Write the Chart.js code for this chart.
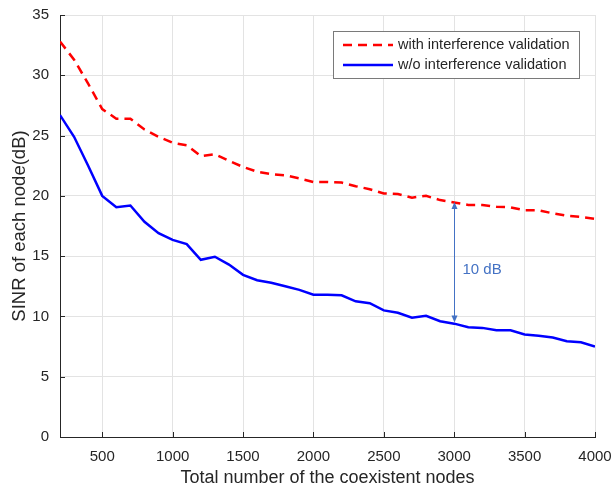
<!DOCTYPE html>
<html>
<head>
<meta charset="utf-8">
<script src="https://cdn.jsdelivr.net/npm/chart.js@4/dist/chart.umd.min.js"></script>
<style>
    body { margin: 0; background: #ffffff; }
    canvas { display: block; }
</style>
</head>
<body>
<canvas id="sinrChart" width="613" height="487"></canvas>
<script>
// number of coexistent nodes
var nodeCounts = [200, 300, 400, 500, 600, 700, 800, 900, 1000, 1100, 1200, 1300, 1400, 1500,
    1600, 1700, 1800, 1900, 2000, 2100, 2200, 2300, 2400, 2500, 2600, 2700, 2800, 2900, 3000,
    3100, 3200, 3300, 3400, 3500, 3600, 3700, 3800, 3900, 4000];
var withValidation = [32.8, 31.3, 29.3, 27.2, 26.4, 26.4, 25.5, 24.9, 24.4, 24.2, 23.3, 23.45, 22.9, 22.4,
    22.0, 21.8, 21.7, 21.45, 21.15, 21.15, 21.1, 20.8, 20.55, 20.2, 20.15, 19.85, 20.0, 19.65, 19.45,
    19.25, 19.25, 19.1, 19.05, 18.8, 18.8, 18.55, 18.35, 18.25, 18.1];
var withoutValidation = [26.7, 24.9, 22.5, 20.0, 19.05, 19.2, 17.85, 16.9, 16.35, 16.0, 14.7, 14.95, 14.3, 13.45,
    13.0, 12.8, 12.5, 12.2, 11.8, 11.8, 11.75, 11.25, 11.1, 10.5, 10.3, 9.9, 10.05, 9.6, 9.4,
    9.1, 9.05, 8.85, 8.85, 8.5, 8.4, 8.25, 7.95, 7.85, 7.5];
var seriesLabels = ['with interference validation', 'w/o interference validation'];
var xTickValues = [500, 1000, 1500, 2000, 2500, 3000, 3500, 4000];
var yTickValues = [0, 5, 10, 15, 20, 25, 30, 35];

// "10 dB" gap marker
var gapX = 3000;
var gapTop = 19.5;
var gapBottom = 9.5;
var gapLabel = '10 dB';
var gapLabelY = 13.9;

var fontName = 'Arial, "Liberation Sans", sans-serif';
var textColor = '#262626';

function toPoints(xs, ys) {
    var pts = [];
    for (var i = 0; i < xs.length; i++) {
        pts.push({ x: xs[i], y: ys[i] });
    }
    return pts;
}

function drawArrowHead(ctx, x, y, dir) {
    ctx.beginPath();
    ctx.moveTo(x, y);
    ctx.lineTo(x - 3, y + dir * 7);
    ctx.lineTo(x + 3, y + dir * 7);
    ctx.closePath();
    ctx.fill();
}

// inward ticks, gap arrow and the legend box inside the plot
var extrasPlugin = {
    id: 'extras',
    afterDraw: function (chart) {
        var ctx = chart.ctx;
        var xs = chart.scales.x;
        var ys = chart.scales.y;
        var area = chart.chartArea;
        ctx.save();

        ctx.strokeStyle = textColor;
        ctx.lineWidth = 1;
        ctx.beginPath();
        for (const v of xTickValues) {
            var px = Math.round(xs.getPixelForValue(v)) + 0.5;
            ctx.moveTo(px, area.bottom);
            ctx.lineTo(px, area.bottom - 5);
        }
        for (const v of yTickValues) {
            var py = Math.round(ys.getPixelForValue(v)) + 0.5;
            ctx.moveTo(area.left, py);
            ctx.lineTo(area.left + 5, py);
        }
        ctx.stroke();

        // gap arrow
        var ax = Math.round(xs.getPixelForValue(gapX)) + 0.5;
        var aTop = ys.getPixelForValue(gapTop);
        var aBottom = ys.getPixelForValue(gapBottom);
        ctx.strokeStyle = '#4472C4';
        ctx.fillStyle = '#4472C4';
        ctx.lineWidth = 1;
        ctx.beginPath();
        ctx.moveTo(ax, aTop + 5);
        ctx.lineTo(ax, aBottom - 5);
        ctx.stroke();
        drawArrowHead(ctx, ax, aTop, 1);
        drawArrowHead(ctx, ax, aBottom, -1);
        ctx.font = '15px ' + fontName;
        ctx.textAlign = 'left';
        ctx.textBaseline = 'middle';
        ctx.fillText(gapLabel, ax + 8, ys.getPixelForValue(gapLabelY));

        // legend
        var bx = 333.5, by = 31.5, bw = 246, bh = 47;
        ctx.fillStyle = '#ffffff';
        ctx.fillRect(bx, by, bw, bh);
        ctx.strokeStyle = '#7a7a7a';
        ctx.strokeRect(bx, by, bw, bh);
        var rows = [45, 65];
        ctx.font = '14.5px ' + fontName;
        chart.data.datasets.forEach(function (ds, i) {
            ctx.strokeStyle = ds.borderColor;
            ctx.lineWidth = ds.borderWidth;
            ctx.setLineDash(ds.borderDash || []);
            ctx.beginPath();
            ctx.moveTo(343, rows[i]);
            ctx.lineTo(393, rows[i]);
            ctx.stroke();
            ctx.setLineDash([]);
            ctx.fillStyle = textColor;
            ctx.fillText(ds.label, 398, rows[i]);
        });
        ctx.restore();
    }
};

function plainLabel(value) {
    return String(value);
}

function ShowChart() {
    var ctx = document.getElementById('sinrChart').getContext('2d');
    var config = {
        type: 'line',
        data: {
            datasets: [{
                label: seriesLabels[0],
                data: toPoints(nodeCounts, withValidation),
                borderColor: '#ff0000',
                borderWidth: 2.5,
                borderDash: [9, 6],
                pointRadius: 0,
                tension: 0
            }, {
                label: seriesLabels[1],
                data: toPoints(nodeCounts, withoutValidation),
                borderColor: '#0000ff',
                borderWidth: 2.5,
                pointRadius: 0,
                tension: 0
            }]
        },
        options: {
            responsive: false,
            animation: false,
            layout: {
                padding: { top: 15, right: 18, left: 0, bottom: 0 }
            },
            plugins: {
                legend: { display: false },
                tooltip: { enabled: false }
            },
            scales: {
                x: {
                    type: 'linear',
                    min: 200,
                    max: 4000,
                    afterBuildTicks: function (scale) {
                        scale.ticks = xTickValues.map(function (v) { return { value: v }; });
                    },
                    afterFit: function (scale) {
                        scale.height = 50;
                        scale.paddingLeft = 0;
                        scale.paddingRight = 0;
                    },
                    grid: { color: '#e3e3e3', drawTicks: false },
                    border: { color: textColor, width: 1 },
                    ticks: {
                        padding: 11,
                        color: textColor,
                        callback: plainLabel,
                        font: { family: fontName, size: 15 }
                    },
                    title: {
                        display: true,
                        text: 'Total number of the coexistent nodes',
                        color: textColor,
                        font: { family: fontName, size: 18, lineHeight: 1.0 },
                        padding: { top: 0, bottom: 0 }
                    }
                },
                y: {
                    min: 0,
                    max: 35,
                    afterBuildTicks: function (scale) {
                        scale.ticks = yTickValues.map(function (v) { return { value: v }; });
                    },
                    afterFit: function (scale) {
                        scale.width = 60;
                        scale.paddingTop = 0;
                        scale.paddingBottom = 0;
                    },
                    grid: { color: '#e3e3e3', drawTicks: false },
                    border: { color: textColor, width: 1 },
                    ticks: {
                        padding: 11,
                        color: textColor,
                        callback: plainLabel,
                        font: { family: fontName, size: 15 }
                    },
                    title: {
                        display: true,
                        text: 'SINR of each node(dB)',
                        color: textColor,
                        font: { family: fontName, size: 18.5, lineHeight: 1.2 },
                        padding: { top: 9, bottom: 0 }
                    }
                }
            }
        },
        plugins: [extrasPlugin]
    };
    var mychart = new Chart(ctx, config);
}
ShowChart();
</script>
</body>
</html>
